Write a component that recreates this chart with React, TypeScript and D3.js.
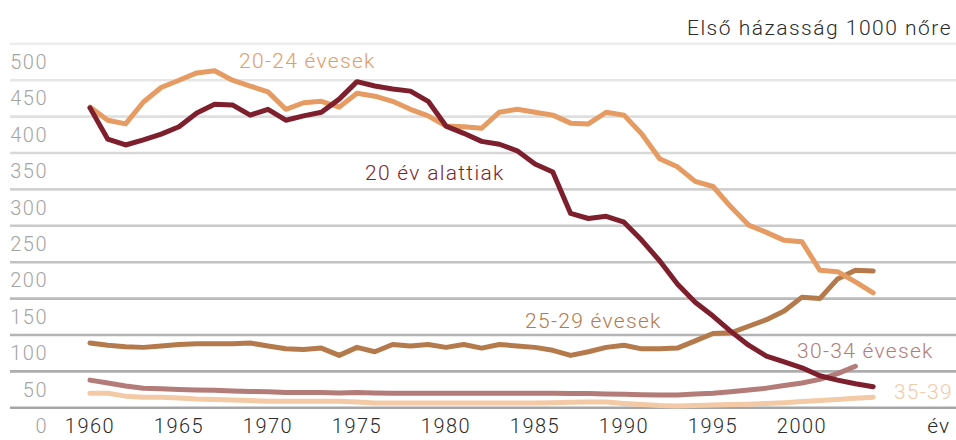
import React from "react";
import * as d3 from "d3";

const years: number[] = d3.range(1960, 2005);

const under20: number[] = [
  437, 394, 386, 393, 401, 411, 430, 442, 441, 427,
  435, 420, 426, 431, 449, 473, 467, 463, 460, 446,
  412, 402, 391, 387, 378, 360, 349, 292, 285, 288,
  280, 255, 227, 195, 170, 151, 130, 111, 96, 88,
  80, 69, 63, 58, 54,
];
const age2024: number[] = [
  438, 420, 415, 445, 465, 475, 485, 488, 475, 467,
  459, 435, 444, 446, 438, 457, 453, 446, 435, 426,
  412, 411, 409, 431, 435, 431, 427, 416, 415, 431,
  427, 401, 367, 356, 336, 329, 301, 276, 266, 255,
  253, 214, 212, 198, 183,
];
const age2529: number[] = [
  114, 111, 109, 108, 110, 112, 113, 113, 113, 114,
  110, 106, 105, 107, 97, 108, 102, 112, 110, 112,
  108, 112, 107, 112, 110, 108, 104, 97, 102, 108,
  111, 106, 106, 107, 117, 127, 128, 137, 146, 158,
  177, 175, 202, 214, 213,
];
const age3034: number[] = [
  63, 59, 55, 52, 51, 50, 49.5, 49, 48, 47.5,
  47, 46, 46, 46, 45.5, 46, 45.5, 45, 45, 45,
  45, 45, 45, 45, 45, 45, 45, 44.6, 44.5, 44,
  43.5, 43, 42.5, 42.5, 44, 45, 47, 49.5, 52, 55.5,
  59, 64, 72, 82,
];
const age3539: number[] = [
  45, 45, 41, 39.5, 39.5, 38.5, 37, 36.5, 35.7, 35,
  34, 34, 34, 34, 34, 33, 31.5, 31.5, 31.5, 31.5,
  31.5, 31.5, 31.5, 31.5, 31.5, 31.5, 32, 32.5, 33, 33,
  31, 29.5, 28, 27.5, 28, 29, 29.5, 30, 31, 32,
  33.5, 35, 36.5, 38, 39.5,
];

const yTicks: number[] = [0, 50, 100, 150, 200, 250, 300, 350, 400, 450, 500];
const xTicks: number[] = [1960, 1965, 1970, 1975, 1980, 1985, 1990, 1995, 2000];

const seriesNames: string[] = [
  "20 év alattiak",
  "20-24 évesek",
  "25-29 évesek",
  "30-34 évesek",
  "35-39",
];
const seriesColors: string[] = ["#7d1f2d", "#e69b63", "#b57a4c", "#b37c78", "#f3c9a6"];
const seriesValues: number[][] = [under20, age2024, age2529, age3034, age3539];

const title = "Első házasság 1000 nőre";
const xUnit = "év";

export default function App() {
  const W = 956;
  const H = 440;
  const x = d3.scaleLinear().domain([1960, 2000]).range([90, 802]);
  const y = d3.scaleLinear().domain([0, 500]).range([426, 62]);
  const gridVals = d3.range(25, 526, 50);
  const gridColor = d3
    .scaleLinear<string>()
    .domain([25, 525])
    .range(["#a6a6a6", "#ededed"]);

  const line = d3
    .line<[number, number]>()
    .x((d) => x(d[0]))
    .y((d) => y(d[1]));

  const font = "Roboto, 'DejaVu Sans', sans-serif";

  const drawOrder = [4, 3, 2, 1, 0];

  const labelPos: { x: number; y: number; anchor: string }[] = [
    { x: 365, y: 173, anchor: "start" },
    { x: 239, y: 61, anchor: "start" },
    { x: 525, y: 321, anchor: "start" },
    { x: 797, y: 351, anchor: "start" },
    { x: 953, y: 392, anchor: "end" },
  ];

  return (
    <svg
      width={W}
      height={H}
      style={{ position: "absolute", left: 0, top: 0, background: "#fff" }}
      fontFamily={font}
    >
      {gridVals.map((v) => (
        <line
          key={v}
          x1={10}
          x2={W}
          y1={y(v)}
          y2={y(v)}
          stroke={gridColor(v)}
          strokeWidth={2.6}
        />
      ))}
      {yTicks.map((v) => (
        <text
          key={v}
          x={48}
          y={y(v)}
          textAnchor="end"
          dominantBaseline="central"
          fontSize={20}
          fontWeight={300}
          letterSpacing={1.5}
          fill="#a4a4a4"
        >
          {v}
        </text>
      ))}
      {xTicks.map((t) => (
        <text
          key={t}
          x={x(t)}
          y={y(0)}
          textAnchor="middle"
          dominantBaseline="central"
          fontSize={20}
          fontWeight={300}
          letterSpacing={1.5}
          fill="#2b2b2b"
        >
          {t}
        </text>
      ))}
      <text
        x={950}
        y={y(0)}
        textAnchor="end"
        dominantBaseline="central"
        fontSize={21}
        fontWeight={300}
        letterSpacing={1}
        fill="#2b2b2b"
      >
        {xUnit}
      </text>
      <text
        x={952}
        y={28}
        textAnchor="end"
        dominantBaseline="central"
        fontSize={21}
        fontWeight={300}
        letterSpacing={1.5}
        fill="#2b2b2b"
      >
        {title}
      </text>
      {drawOrder.map((i) => {
        const pts: [number, number][] = seriesValues[i].map((v, k) => [years[k], v]);
        return (
          <path
            key={i}
            d={line(pts) || ""}
            fill="none"
            stroke={seriesColors[i]}
            strokeWidth={5}
            strokeLinejoin="round"
            strokeLinecap="round"
          />
        );
      })}
      {seriesNames.map((n, i) => (
        <text
          key={n}
          x={labelPos[i].x}
          y={labelPos[i].y}
          textAnchor={labelPos[i].anchor as any}
          dominantBaseline="central"
          fontSize={21}
          fontWeight={300}
          letterSpacing={1.3}
          fill={seriesColors[i]}
        >
          {n}
        </text>
      ))}
    </svg>
  );
}
